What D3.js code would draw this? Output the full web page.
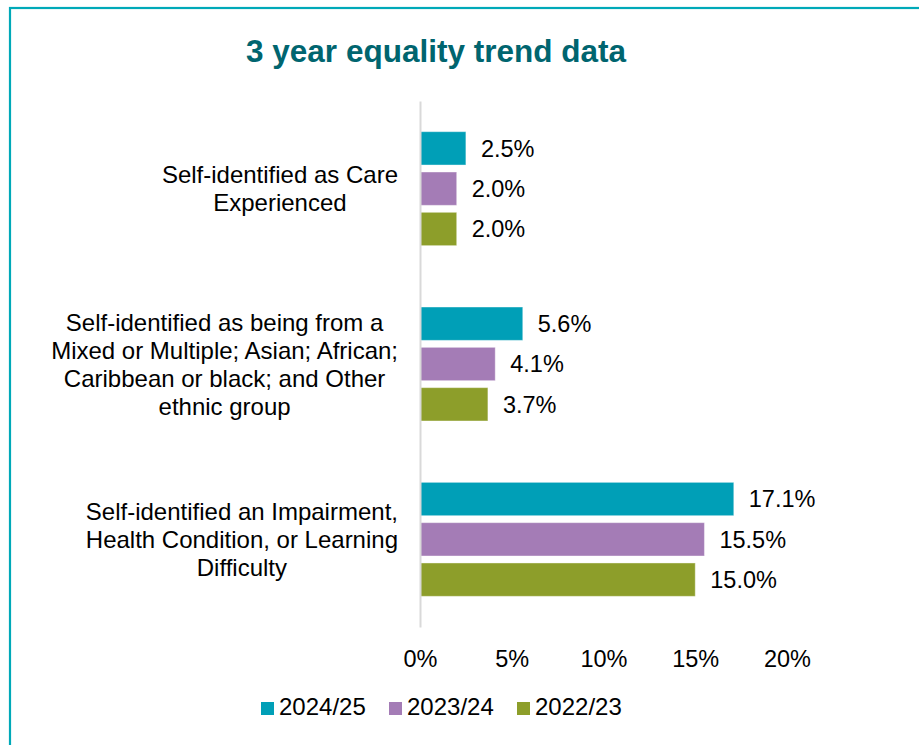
<!DOCTYPE html>
<html>
<head>
<meta charset="utf-8">
<script src="https://cdn.jsdelivr.net/npm/d3@7"></script>
<style>
  body { margin: 0; background: #fff; }
  svg { display: block; font-family: "Liberation Sans", Arial, sans-serif; }
</style>
</head>
<body>
<div id="chart"></div>
<script>
// chart data
var categories = [
  "Self-identified as Care Experienced",
  "Self-identified as being from a Mixed or Multiple; Asian; African; Caribbean or black; and Other ethnic group",
  "Self-identified an Impairment, Health Condition, or Learning Difficulty"
];
var seriesNames = ["2024/25", "2023/24", "2022/23"];
var values2024 = [2.5, 5.6, 17.1];
var values2023 = [2.0, 4.1, 15.5];
var values2022 = [2.0, 3.7, 15.0];
var xTicks = [0, 5, 10, 15, 20];

var colors = ["#009FB7", "#A47CB6", "#8D9E2A"];

var width = 919, height = 745;

var svg = d3.select("#chart").append("svg")
  .attr("width", width)
  .attr("height", height);

svg.append("rect").attr("width", width).attr("height", height).attr("fill", "#fff");

// frame (only top + left visible)
svg.append("rect")
  .attr("x", 10).attr("y", 8)
  .attr("width", 1000).attr("height", 1000)
  .attr("fill", "none")
  .attr("stroke", "#00A9B8")
  .attr("stroke-width", 2.2);

// title
svg.append("text")
  .attr("x", 436).attr("y", 62)
  .attr("text-anchor", "middle")
  .style("font-size", "31.5px")
  .style("font-weight", "bold")
  .style("fill", "#00656F")
  .text("3 year equality trend data");

var plot = { left: 420, right: 787, top: 101, bottom: 627 };

var x = d3.scaleLinear().domain([0, 20]).range([plot.left, plot.right]);

var y0 = d3.scaleBand()
  .domain(categories)
  .range([plot.top, plot.bottom])
  .paddingInner(0.35)
  .paddingOuter(0.175);

var y1 = d3.scaleBand()
  .domain(seriesNames)
  .range([0, y0.bandwidth()])
  .paddingInner(0.173);

var table = categories.map(function (c, i) {
  return {
    cat: c,
    vals: [
      { s: seriesNames[0], v: values2024[i], c: colors[0] },
      { s: seriesNames[1], v: values2023[i], c: colors[1] },
      { s: seriesNames[2], v: values2022[i], c: colors[2] }
    ]
  };
});

// bars
var groups = svg.selectAll(".grp")
  .data(table)
  .enter().append("g")
  .attr("class", "grp")
  .attr("transform", function (d) { return "translate(0," + y0(d.cat) + ")"; });

groups.selectAll("rect")
  .data(function (d) { return d.vals; })
  .enter().append("rect")
  .attr("x", x(0))
  .attr("y", function (d) { return y1(d.s); })
  .attr("width", function (d) { return x(d.v) - x(0); })
  .attr("height", y1.bandwidth())
  .attr("fill", function (d) { return d.c; })
  .attr("stroke", "#fff")
  .attr("stroke-opacity", 0.4)
  .attr("stroke-width", 1);

groups.selectAll(".val")
  .data(function (d) { return d.vals; })
  .enter().append("text")
  .attr("class", "val")
  .attr("x", function (d) { return x(d.v) + 15; })
  .attr("y", function (d) { return y1(d.s) + y1.bandwidth() / 2; })
  .attr("dy", "0.35em")
  .style("font-size", "23.5px")
  .style("fill", "#000")
  .text(function (d) { return d.v.toFixed(1) + "%"; });

// y axis line
var yAxis = svg.append("g")
  .attr("transform", "translate(" + plot.left + ",0)")
  .call(d3.axisLeft(y0).tickSize(0).tickFormat(""));
yAxis.select(".domain").attr("stroke", "#D9D9D9").attr("stroke-width", 2);

// x axis labels
var xAxis = svg.append("g")
  .attr("transform", "translate(0," + plot.bottom + ")")
  .call(d3.axisBottom(x).tickValues(xTicks).tickSize(0).tickPadding(23)
    .tickFormat(function (d) { return d + "%"; }));
xAxis.select(".domain").remove();
xAxis.selectAll("text")
  .style("font-size", "23.5px")
  .style("font-family", "\"Liberation Sans\", Arial, sans-serif")
  .attr("fill", "#000");

// category labels, wrapped, block right-aligned, lines centred
var labelRight = 398, wrapWidth = 355, lineH = 28;
table.forEach(function (d) {
  var g = svg.append("g");
  var words = d.cat.split(" ");
  var lines = [], cur = [];
  var probe = g.append("text").style("font-size", "24px");
  words.forEach(function (w) {
    var test = cur.concat([w]).join(" ");
    probe.text(test);
    if (probe.node().getComputedTextLength() > wrapWidth && cur.length) {
      lines.push(cur.join(" "));
      cur = [w];
    } else {
      cur.push(w);
    }
  });
  lines.push(cur.join(" "));
  var maxW = 0;
  lines.forEach(function (l) {
    probe.text(l);
    maxW = Math.max(maxW, probe.node().getComputedTextLength());
  });
  probe.remove();
  var cx = labelRight - maxW / 2;
  var cy = y0(d.cat) + y0.bandwidth() / 2;
  var firstBase = cy - (lines.length - 1) * lineH / 2 + 8.5;
  lines.forEach(function (l, i) {
    g.append("text")
      .attr("x", cx)
      .attr("y", firstBase + i * lineH)
      .attr("text-anchor", "middle")
      .style("font-size", "24px")
      .style("fill", "#000")
      .text(l);
  });
});

// legend
var legend = svg.append("g").attr("class", "legend");
var item = legend.selectAll("g")
  .data(seriesNames)
  .enter().append("g")
  .attr("transform", function (d, i) { return "translate(" + (261 + i * 128) + ",702)"; });
item.append("rect")
  .attr("width", 13).attr("height", 13)
  .attr("fill", function (d, i) { return colors[i]; });
item.append("text")
  .attr("x", 18).attr("y", 13)
  .style("font-size", "24px")
  .style("fill", "#000")
  .text(function (d) { return d; });
</script>
</body>
</html>
